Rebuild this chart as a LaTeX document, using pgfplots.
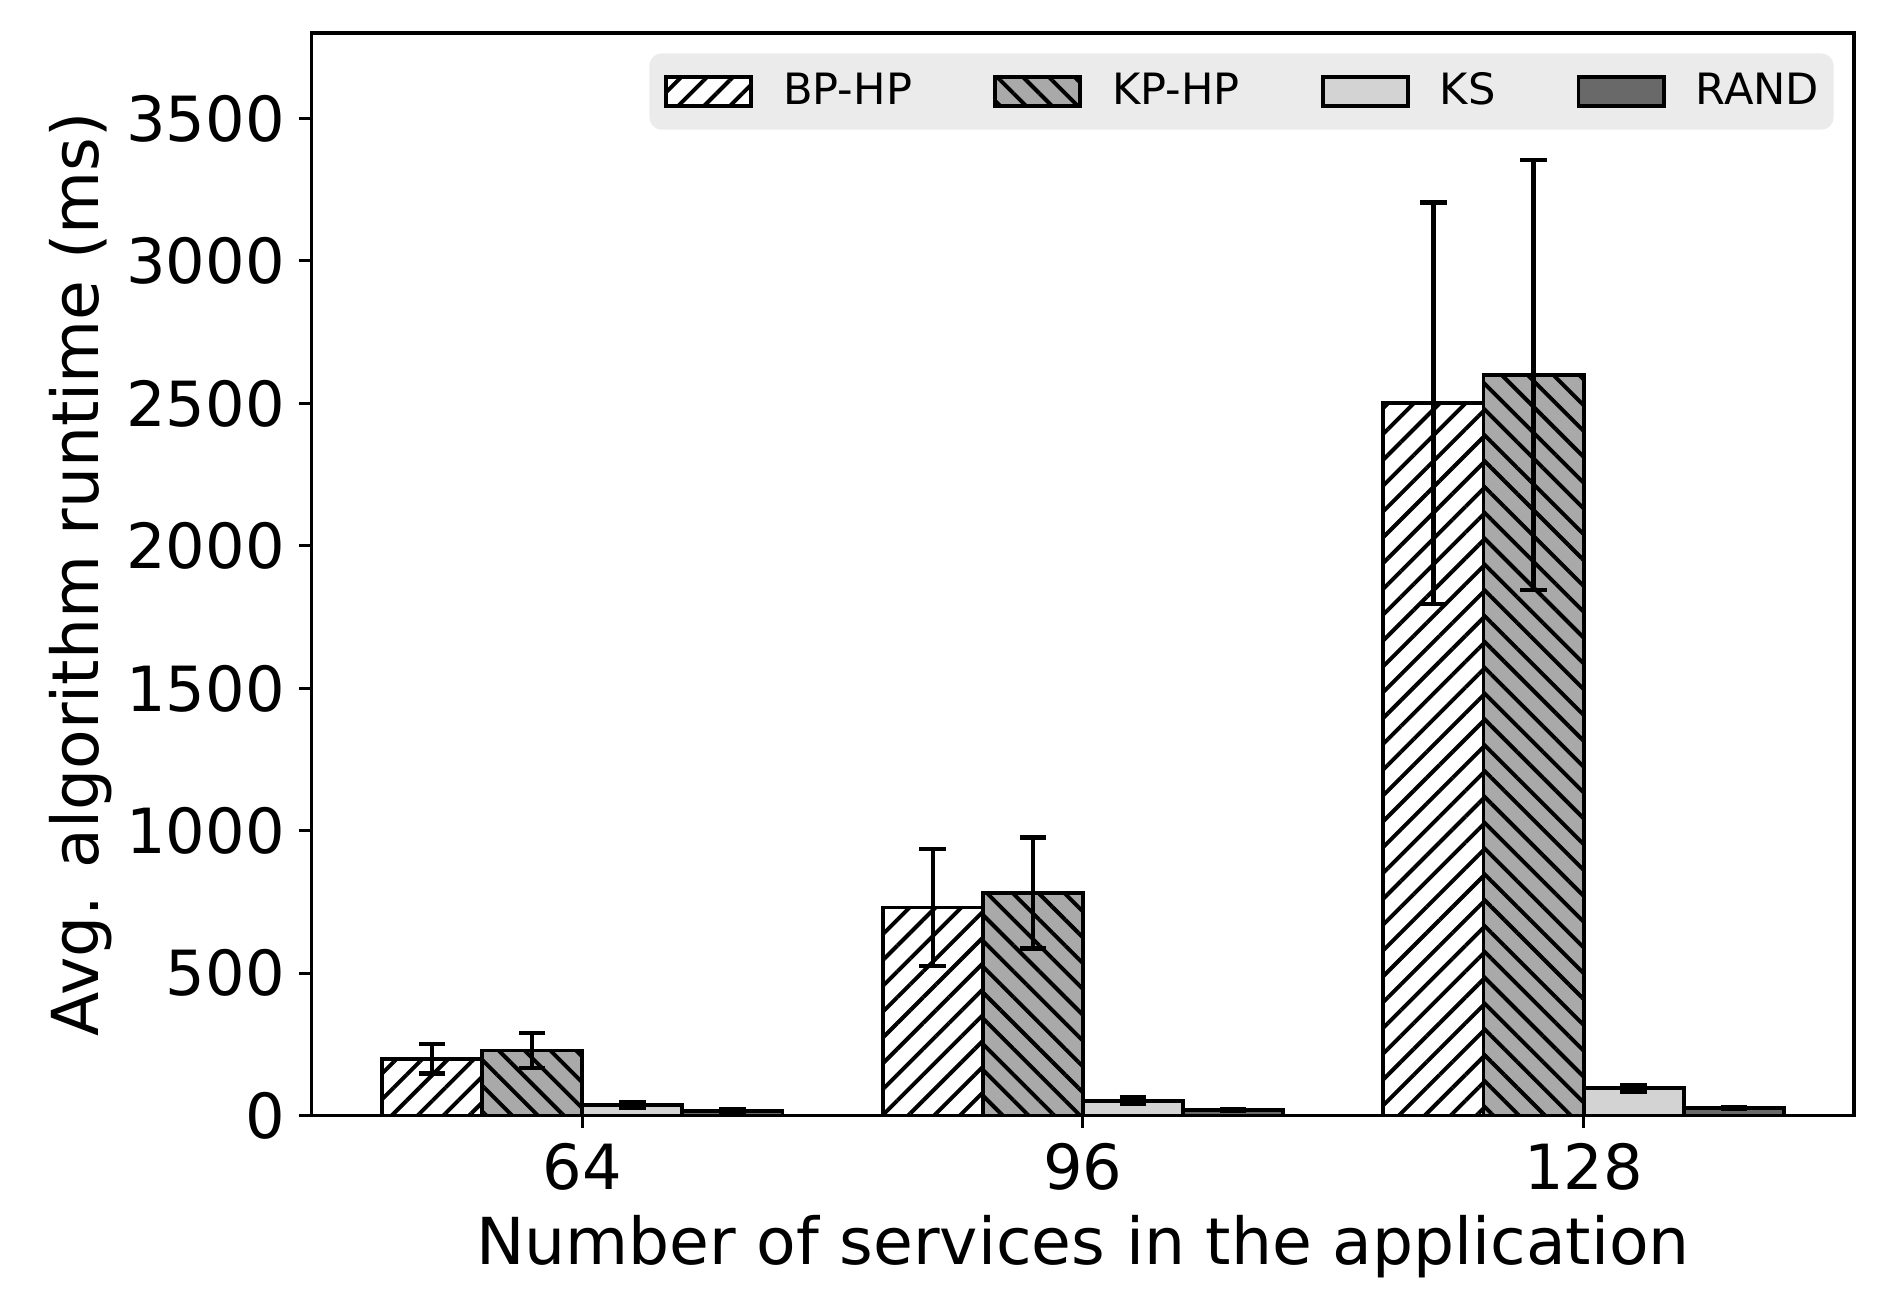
\documentclass[border=0pt]{standalone}
\usepackage{fontspec}
\setmainfont{DejaVu Sans}
\usepackage{pgfplots}
\pgfplotsset{compat=1.18}
\usetikzlibrary{patterns.meta}
\definecolor{legendgray}{RGB}{235,235,235}
\definecolor{kpgray}{RGB}{169,169,169}
\definecolor{ksgray}{RGB}{211,211,211}
\definecolor{randgray}{RGB}{105,105,105}
\begin{document}
\begin{tikzpicture}
\useasboundingbox (-2.641,-1.566) rectangle (13.365,9.449);
\begin{axis}[
  at={(0,0)}, anchor=south west,
  scale only axis, width=13.06cm, height=9.17cm,
  ybar=0pt, bar width=0.2,
  xmin=-0.54, xmax=2.54, ymin=0, ymax=3800,
  xtick={0,1,2}, xticklabels={64,96,128},
  ytick={0,500,...,3500},
  scaled y ticks=false,
  /pgf/number format/1000 sep={},
  /pgf/number format/assume math mode=true,
  tick pos=left, tick align=outside,
  major tick length=3pt,
  every tick/.style={black, line width=0.75pt},
  axis line style={line width=0.75pt},
  ticklabel style={font=\fontsize{15}{18}\selectfont},
  label style={font=\fontsize{15.6}{18}\selectfont},
  xlabel={Number of services in the application},
  ylabel={Avg. algorithm runtime (ms)},
  x label style={at={(axis description cs:0.5,-0.121)}, anchor=center},
  y label style={at={(axis description cs:-0.150,0.5)}, anchor=center},
  every axis plot/.append style={draw=black, line width=0.95pt,
    error bars/y dir=both, error bars/y explicit,
    error bars/error bar style={line width=1.05pt, black},
    error bars/error mark options={line width=1.05pt, black, mark size=3.2pt, rotate=90}},
  legend image code/.code={\draw[#1, sharp corners] (0pt,-3.5pt) rectangle (20.5pt,3.5pt);},
  legend columns=4,
  legend style={
    draw=none, fill=legendgray, rounded corners=3pt,
    at={(1,1)}, xshift=-4.7pt, yshift=-4.7pt, anchor=north east,
    font=\fontsize{10.4}{12}\selectfont,
    inner xsep=3.5pt, inner ysep=2.6pt,
    nodes={inner xsep=0pt, inner ysep=2pt},
    /tikz/every odd column/.append style={column sep=7.3pt},
    /tikz/every even column/.append style={column sep=19.5pt},
  },
]
\addplot[pattern={Lines[angle=45,distance=4.4pt,line width=0.95pt]}, pattern color=black, preaction={fill=white}]
  coordinates {(0,200) +- (0,52) (1,731) +- (0,205) (2,2500) +- (0,705)};
\addplot[pattern={Lines[angle=-45,distance=4.4pt,line width=0.95pt]}, pattern color=black, preaction={fill=kpgray}]
  coordinates {(0,229) +- (0,61) (1,782) +- (0,195) (2,2600) +- (0,755)};
\addplot[fill=ksgray]
  coordinates {(0,37) +- (0,10) (1,53) +- (0,12) (2,97) +- (0,12)};
\addplot[fill=randgray]
  coordinates {(0,18) +- (0,4) (1,20) +- (0,4) (2,27) +- (0,4)};
\legend{BP-HP,KP-HP,KS,RAND}
\end{axis}
\end{tikzpicture}
\end{document}
